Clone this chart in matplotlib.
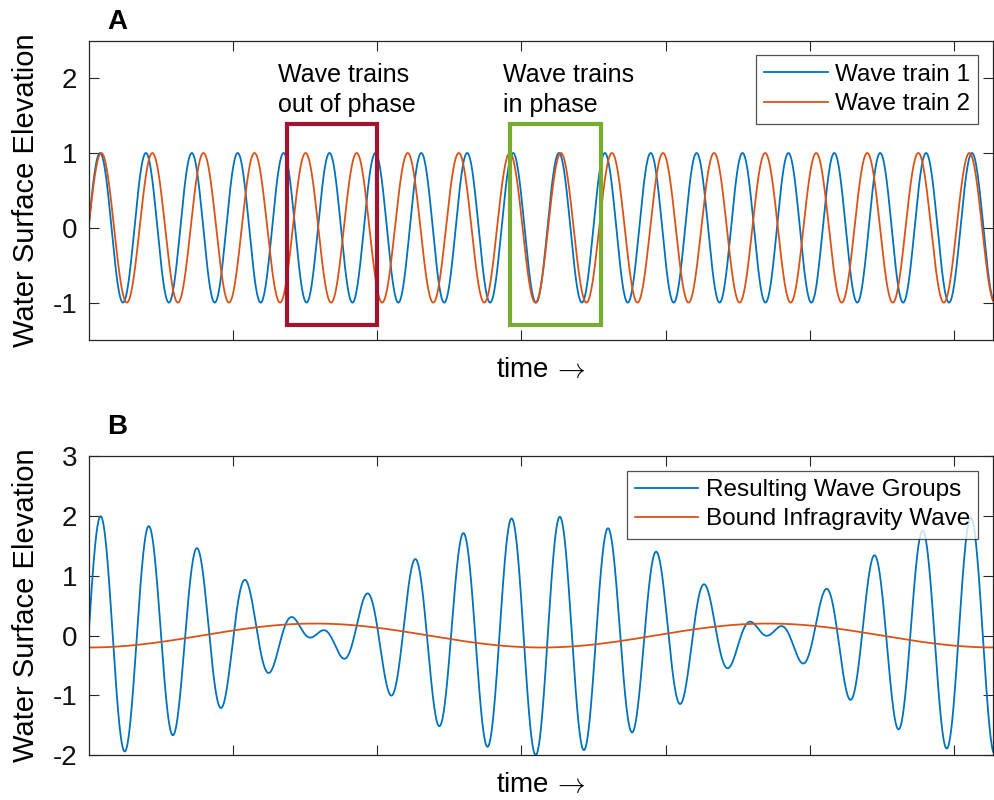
import numpy as np
import matplotlib
matplotlib.use("Agg")
import matplotlib.pyplot as plt
from matplotlib.patches import Rectangle

# wave parameters
t_end = 62.7
freqs = [1.975, 1.775]      # rad per time unit, wave train 1 and 2
amps = [1.0, 1.0]
ig_amp = 0.2                # bound infragravity wave amplitude
labels_a = ["Wave train 1", "Wave train 2"]
labels_b = ["Resulting Wave Groups", "Bound Infragravity Wave"]

# annotation boxes (time range, elevation range)
box_out = [13.74, 19.98, -1.295, 1.382]
box_in = [29.2, 35.5, -1.295, 1.382]

blue = "#0072BD"
orange = "#D95319"
axc = "#262626"

plt.rcParams["font.family"] = ["Liberation Sans", "DejaVu Sans"]
plt.rcParams["axes.unicode_minus"] = False
plt.rcParams["mathtext.fontset"] = "cm"

t = np.linspace(0, t_end, 5000)
eta1 = amps[0] * np.sin(freqs[0] * t)
eta2 = amps[1] * np.sin(freqs[1] * t)
group = eta1 + eta2
ig = -ig_amp * np.cos((freqs[0] - freqs[1]) * t)

fig = plt.figure(figsize=(9.95, 8.0), dpi=100)
ax1 = fig.add_axes([0.089, 0.575, 0.909, 0.374])
ax2 = fig.add_axes([0.089, 0.056, 0.909, 0.374])


def style(ax):
    ax.set_xlim(0, t_end)
    ax.set_xticks([10, 20, 30, 40, 50, 60])
    ax.set_xticklabels([])
    ax.tick_params(direction="in", top=True, right=True, length=7,
                   width=0.8, color=axc, labelsize=20, labelcolor="#111111",
                   pad=8)
    for s in ax.spines.values():
        s.set_color(axc)
        s.set_linewidth(0.9)
    ax.set_ylabel("Water Surface Elevation", fontsize=21, labelpad=9)
    ax.set_xlabel(r"time$\,\rightarrow$", fontsize=20, labelpad=4)


def add_legend(ax):
    leg = ax.legend(loc="upper right", fontsize=17.5, fancybox=False,
                    edgecolor=axc, handlelength=2.6, handletextpad=0.3,
                    borderpad=0.35, labelspacing=0.3, borderaxespad=0.6)
    leg.get_frame().set_linewidth(0.9)


# panel A
ax1.plot(t, eta1, color=blue, lw=1.3, label=labels_a[0])
ax1.plot(t, eta2, color=orange, lw=1.3, label=labels_a[1])
ax1.set_ylim(-1.5, 2.5)
ax1.set_yticks([-1, 0, 1, 2])
style(ax1)
for b, col in [(box_out, "#A2142F"), (box_in, "#77AC30")]:
    ax1.add_patch(Rectangle((b[0], b[2]), b[1] - b[0], b[3] - b[2],
                            fill=False, ec=col, lw=3, zorder=5))
ax1.text(13.16, 1.84, "Wave trains\nout of phase", fontsize=18,
         ha="left", va="center", linespacing=1.3)
ax1.text(28.75, 1.84, "Wave trains\nin phase", fontsize=18,
         ha="left", va="center", linespacing=1.3)
add_legend(ax1)
fig.text(0.108, 0.972, "A", fontsize=20, fontweight="bold", va="center")

# panel B
ax2.plot(t, group, color=blue, lw=1.3, label=labels_b[0])
ax2.plot(t, ig, color=orange, lw=1.3, label=labels_b[1])
ax2.set_ylim(-2, 3)
ax2.set_yticks([-2, -1, 0, 1, 2, 3])
style(ax2)
add_legend(ax2)
fig.text(0.108, 0.466, "B", fontsize=20, fontweight="bold", va="center")

fig.savefig("out.png", dpi=100, facecolor="white")
